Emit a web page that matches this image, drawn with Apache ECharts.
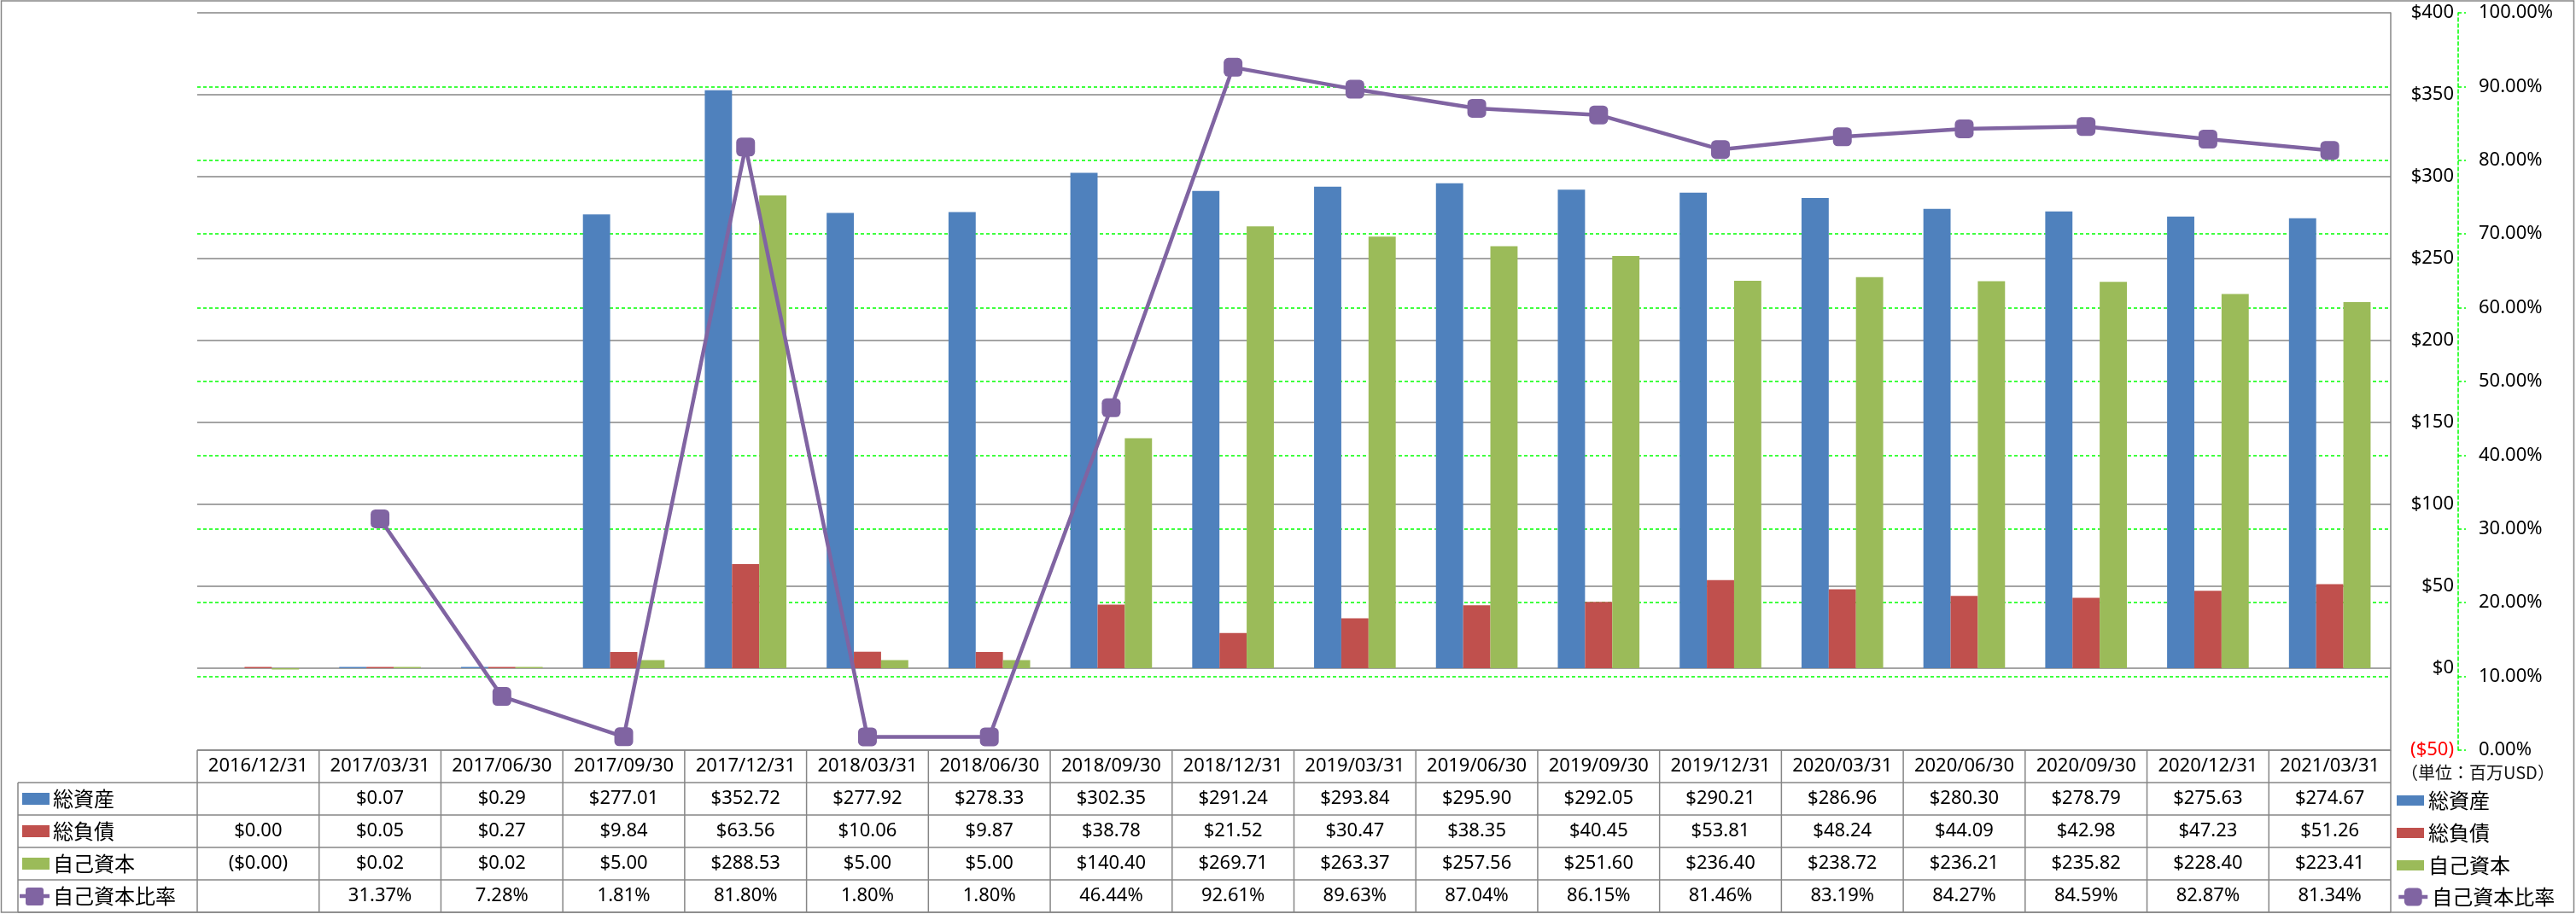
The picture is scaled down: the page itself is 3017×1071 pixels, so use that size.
<!DOCTYPE html>
<html><head><meta charset="utf-8">
<script src="https://cdn.jsdelivr.net/npm/echarts@6/dist/echarts.min.js"></script>
<style>html,body{margin:0;padding:0;background:#fff}#c{width:3017px;height:1071px}</style>
</head><body><div id="c"></div>
<script>
// ---- data ----
const categories = ['2016/12/31','2017/03/31','2017/06/30','2017/09/30','2017/12/31','2018/03/31','2018/06/30','2018/09/30','2018/12/31','2019/03/31','2019/06/30','2019/09/30','2019/12/31','2020/03/31','2020/06/30','2020/09/30','2020/12/31','2021/03/31'];
const totalAssets = [null,0.07,0.29,277.01,352.72,277.92,278.33,302.35,291.24,293.84,295.90,292.05,290.21,286.96,280.30,278.79,275.63,274.67];
const totalLiabilities = [0.00,0.05,0.27,9.84,63.56,10.06,9.87,38.78,21.52,30.47,38.35,40.45,53.81,48.24,44.09,42.98,47.23,51.26];
const equity = [-0.001,0.02,0.02,5.00,288.53,5.00,5.00,140.40,269.71,263.37,257.56,251.60,236.40,238.72,236.21,235.82,228.40,223.41];
const equityRatio = [null,31.37,7.28,1.81,81.80,1.80,1.80,46.44,92.61,89.63,87.04,86.15,81.46,83.19,84.27,84.59,82.87,81.34];
const seriesNames = ['総資産','総負債','自己資本','自己資本比率'];
const dollarAxis = {min:-50, max:400, interval:50};
const pctAxis = {min:0, max:100, interval:10};
const unitLabel = '（単位：百万USD）';

// ---- style ----
const C_BLUE='#4F81BD', C_RED='#C0504D', C_GREEN='#9BBB59', C_PURPLE='#8064A2';
const GRAY='#868686', LGREEN='#00FF00';
const FONT='"Noto Sans","Noto Sans CJK JP",sans-serif';
const FONT_JP='"Noto Sans CJK JP","Noto Sans",sans-serif';
const FS=22, FS_JP=24;

function money(v){ if(v==null) return ''; const a=Math.abs(v).toFixed(2); return v<0?'($'+a+')':'$'+a; }
function pct(v){ return v==null?'':v.toFixed(2)+'%'; }

const chart = echarts.init(document.getElementById('c'), null, {renderer:'canvas'});
const legendText = {fontFamily:FONT_JP, fontSize:FS_JP, color:'#000'};
const option = {
  animation:false,
  backgroundColor:'#fff',
  grid:{left:231, right:217, top:15, bottom:192, containLabel:false},
  legend:[
    {orient:'vertical', left:2807, top:926, padding:0, itemGap:14,
     itemWidth:32, itemHeight:12, icon:'rect', textStyle:legendText,
     data:seriesNames.slice(0,3)},
    {orient:'vertical', left:2807, top:1039, padding:0,
     itemWidth:34, itemHeight:26, textStyle:legendText,
     lineStyle:{width:4.5}, data:[seriesNames[3]]}
  ],
  xAxis:{type:'category', data:categories, boundaryGap:true,
    axisLine:{show:false}, axisTick:{show:false}, axisLabel:{show:false}, splitLine:{show:false}},
  yAxis:[
    {type:'value', position:'right', min:dollarAxis.min, max:dollarAxis.max, interval:dollarAxis.interval,
     axisLine:{show:true, lineStyle:{color:GRAY, width:1.5}}, axisTick:{show:false},
     splitLine:{show:true, lineStyle:{color:GRAY, width:1.5}},
     axisLabel:{margin:74, align:'right', fontFamily:FONT, fontSize:FS, color:'#000',
       formatter:v=> v<0?'{neg|($'+(-v)+')}':'$'+v,
       rich:{neg:{color:'#FF0000', fontFamily:FONT, fontSize:FS}}}},
    {type:'value', position:'right', offset:79, min:pctAxis.min, max:pctAxis.max, interval:pctAxis.interval,
     axisLine:{show:true, lineStyle:{color:LGREEN, width:1.5, type:[4,3]}},
     axisTick:{show:true, length:9, lineStyle:{color:LGREEN, width:1.5, type:[4,3]}},
     splitLine:{show:true, showMinLine:false, showMaxLine:false, lineStyle:{color:LGREEN, width:1.5, type:[4,3]}},
     axisLabel:{margin:24, fontFamily:FONT, fontSize:FS, color:'#000', formatter:v=>v.toFixed(2)+'%'}}
  ],
  series:[
    {name:seriesNames[0], type:'bar', yAxisIndex:0, data:totalAssets, itemStyle:{color:C_BLUE}, barGap:'0%', barCategoryGap:'33%', barMinHeight:1.5},
    {name:seriesNames[1], type:'bar', yAxisIndex:0, data:totalLiabilities, itemStyle:{color:C_RED}, barGap:'0%', barCategoryGap:'33%', barMinHeight:1.5},
    {name:seriesNames[2], type:'bar', yAxisIndex:0, data:equity, itemStyle:{color:C_GREEN}, barGap:'0%', barCategoryGap:'33%', barMinHeight:1.5},
    {name:seriesNames[3], type:'line', yAxisIndex:1, data:equityRatio, symbol:'roundRect', symbolSize:22,
     itemStyle:{color:C_PURPLE}, lineStyle:{color:C_PURPLE, width:4.5}, z:5}
  ]
};
chart.setOption(option);

// ---- data table drawn from the same arrays and the axes' pixel mapping ----
const n = categories.length;
const cx = categories.map((_,i)=>chart.convertToPixel({xAxisIndex:0}, i));
const cw = cx[1]-cx[0];
const tableTop = chart.convertToPixel({yAxisIndex:0}, dollarAxis.min);
const rowH = 38;
const labelLeft = 21;
const xL = cx[0]-cw/2, xR = cx[n-1]+cw/2;
const g = [];
const line = (x1,y1,x2,y2)=>g.push({type:'line', shape:{x1,y1,x2,y2}, style:{stroke:GRAY, lineWidth:1.5}, silent:true});
line(xL, tableTop, xR, tableTop);
for(let k=1;k<=5;k++) line(labelLeft, tableTop+k*rowH, xR, tableTop+k*rowH);
for(let i=0;i<=n;i++){ const x=xL+i*cw; line(x, tableTop, x, tableTop+5*rowH); }
line(labelLeft, tableTop+rowH, labelLeft, tableTop+5*rowH);
const txt=(x,y,s,align,font,size,color)=>g.push({type:'text', x, y, style:{text:s, fill:color||'#000', font:(size||FS)+'px '+(font||FONT), textAlign:align||'center', textVerticalAlign:'middle'}, silent:true});
const rows = [categories, totalAssets.map(money), totalLiabilities.map(money), equity.map(money), equityRatio.map(pct)];
rows.forEach((r,k)=>{ const y=tableTop+k*rowH+rowH/2; r.forEach((s,i)=>txt(cx[i], y, s)); });
// row labels with legend keys
const keyColors=[C_BLUE,C_RED,C_GREEN];
seriesNames.forEach((name,k)=>{
  const y=tableTop+(k+1)*rowH+rowH/2;
  if(k<3){ g.push({type:'rect', shape:{x:26,y:y-7,width:32,height:14}, style:{fill:keyColors[k]}, silent:true}); }
  else {
    g.push({type:'line', shape:{x1:23,y1:y,x2:58,y2:y}, style:{stroke:C_PURPLE, lineWidth:4.5}, silent:true});
    g.push({type:'rect', shape:{x:30,y:y-10,width:21,height:21,r:3}, style:{fill:C_PURPLE}, silent:true});
  }
  txt(62, y, name, 'left', FONT_JP, FS_JP);
});
// unit label
txt(2812, tableTop+26, unitLabel, 'left', FONT_JP, 20, '#111');
// outer border
g.push({type:'rect', shape:{x:1.5,y:1,width:3013,height:1068}, style:{fill:'none', stroke:GRAY, lineWidth:1.5}, silent:true});
chart.setOption({graphic:g});
</script></body></html>
